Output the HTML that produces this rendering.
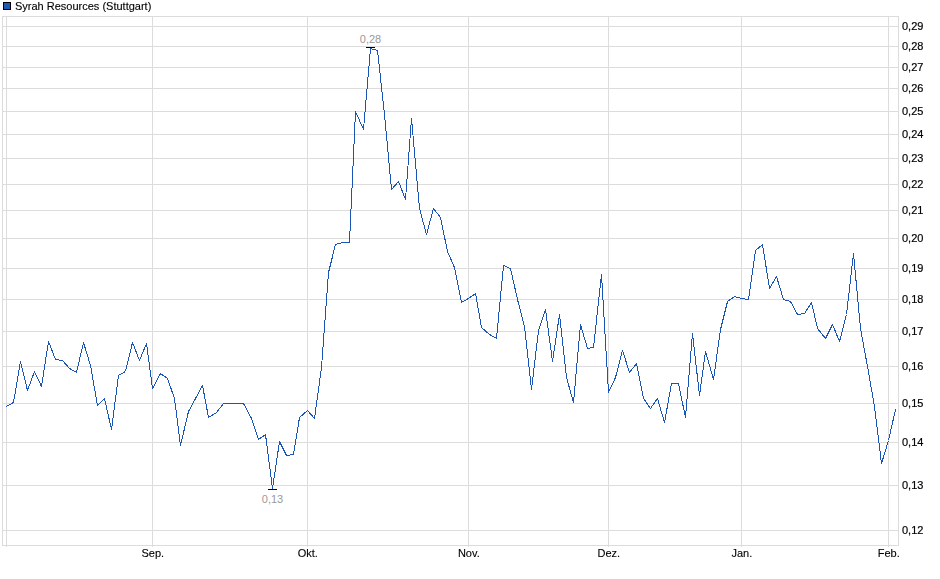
<!DOCTYPE html><html><head><meta charset="utf-8"><title>Chart</title><style>
html,body{margin:0;padding:0;background:#fff;}body{width:940px;height:579px;overflow:hidden;position:relative;font-family:"Liberation Sans",sans-serif;}
svg{position:absolute;left:0;top:0;}#main{will-change:transform;opacity:0.999;}text{font-family:"Liberation Sans",sans-serif;}
</style></head><body>
<svg id="under" width="940" height="579" viewBox="0 0 940 579">
<rect x="0" y="0" width="940" height="579" fill="#ffffff"/>
<g font-size="11" fill="#999999" text-anchor="middle"><text x="370.5" y="43">0,28</text><text x="272.5" y="503">0,13</text></g>
</svg>
<svg id="main" width="940" height="579" viewBox="0 0 940 579">
<g stroke="#dcdcdc" stroke-width="1" shape-rendering="crispEdges" fill="none">
<line x1="2" y1="26.5" x2="899" y2="26.5"/>
<line x1="2" y1="46.5" x2="899" y2="46.5"/>
<line x1="2" y1="67.5" x2="899" y2="67.5"/>
<line x1="2" y1="88.5" x2="899" y2="88.5"/>
<line x1="2" y1="111.5" x2="899" y2="111.5"/>
<line x1="2" y1="134.5" x2="899" y2="134.5"/>
<line x1="2" y1="158.5" x2="899" y2="158.5"/>
<line x1="2" y1="184.5" x2="899" y2="184.5"/>
<line x1="2" y1="210.5" x2="899" y2="210.5"/>
<line x1="2" y1="238.5" x2="899" y2="238.5"/>
<line x1="2" y1="268.5" x2="899" y2="268.5"/>
<line x1="2" y1="299.5" x2="899" y2="299.5"/>
<line x1="2" y1="331.5" x2="899" y2="331.5"/>
<line x1="2" y1="366.5" x2="899" y2="366.5"/>
<line x1="2" y1="403.5" x2="899" y2="403.5"/>
<line x1="2" y1="442.5" x2="899" y2="442.5"/>
<line x1="2" y1="485.5" x2="899" y2="485.5"/>
<line x1="2" y1="530.5" x2="899" y2="530.5"/>
<line x1="152.5" y1="16" x2="152.5" y2="547"/>
<line x1="307.5" y1="16" x2="307.5" y2="547"/>
<line x1="468.5" y1="16" x2="468.5" y2="547"/>
<line x1="608.5" y1="16" x2="608.5" y2="547"/>
<line x1="741.5" y1="16" x2="741.5" y2="547"/>
<line x1="888.5" y1="16" x2="888.5" y2="547"/>
<line x1="6.5" y1="16" x2="6.5" y2="547"/>
<rect x="2.5" y="16.5" width="896" height="529"/>
</g>
<polyline points="6.5,406.5 13.5,402.5 20.5,361.5 27.5,390.5 34.5,371.5 41.5,386.5 48.5,341.5 55.5,359.5 62.5,360.5 69.5,368.5 76.5,372.5 83.5,342.5 90.5,365.5 97.5,405.5 104.5,398.5 111.5,429.5 118.5,375.5 125.5,371.5 132.5,342.5 139.5,360.5 146.5,343.5 152.5,388.5 160.5,373.5 167.5,378.5 174.5,398.5 180.5,445.5 188.5,411.5 195.5,398.5 202.5,385.5 208.5,417.5 216.5,412.5 223.5,403.5 230.5,403.5 237.5,403.5 243.5,403.5 251.5,418.5 258.5,439.5 265.5,434.5 272.5,488.5 279.5,441.5 286.5,455.5 293.5,454.5 299.5,417.5 307.5,410.5 314.5,418.5 321.5,367.5 328.5,272.5 335.5,244.5 342.5,242.5 349.5,242.5 355.5,111.5 363.5,129.5 370.5,48.5 377.5,50.5 384.5,114.5 391.5,189.5 398.5,181.5 405.5,199.5 411.5,118.5 419.5,208.5 426.5,234.5 433.5,208.5 440.5,217.5 447.5,251.5 454.5,267.5 461.5,302.5 468.5,298.5 475.5,293.5 481.5,327.5 489.5,334.5 496.5,338.5 503.5,265.5 510.5,268.5 517.5,299.5 524.5,326.5 531.5,389.5 538.5,330.5 545.5,309.5 552.5,361.5 559.5,314.5 566.5,377.5 573.5,402.5 580.5,324.5 587.5,348.5 593.5,347.5 601.5,274.5 608.5,392.5 615.5,377.5 622.5,350.5 629.5,372.5 636.5,363.5 643.5,398.5 650.5,408.5 657.5,398.5 664.5,422.5 671.5,383.5 678.5,383.5 685.5,417.5 692.5,333.5 699.5,395.5 705.5,351.5 713.5,379.5 720.5,329.5 727.5,301.5 734.5,296.5 741.5,298.5 748.5,299.5 755.5,250.5 762.5,244.5 769.5,288.5 776.5,276.5 783.5,299.5 790.5,301.5 797.5,314.5 804.5,313.5 811.5,302.5 817.5,328.5 825.5,338.5 832.5,324.5 839.5,341.5 846.5,314.5 853.5,253.5 860.5,328.5 867.5,366.5 874.5,406.5 881.5,463.5 888.5,440.5 895.5,409.5" fill="none" stroke="#1a55b5" stroke-width="1" stroke-linejoin="bevel" shape-rendering="crispEdges"/>
<g stroke="#000" stroke-width="1.4" shape-rendering="crispEdges"><line x1="366" y1="47.3" x2="375" y2="47.3"/><line x1="268" y1="489.3" x2="277" y2="489.3"/></g>
<g font-size="11" fill="#000" stroke="#000" stroke-width="0.2" text-anchor="start">
<text x="902" y="30">0,29</text>
<text x="902" y="50">0,28</text>
<text x="902" y="71">0,27</text>
<text x="902" y="92">0,26</text>
<text x="902" y="115">0,25</text>
<text x="902" y="138">0,24</text>
<text x="902" y="162">0,23</text>
<text x="902" y="188">0,22</text>
<text x="902" y="214">0,21</text>
<text x="902" y="242">0,20</text>
<text x="902" y="272">0,19</text>
<text x="902" y="303">0,18</text>
<text x="902" y="335">0,17</text>
<text x="902" y="370">0,16</text>
<text x="902" y="407">0,15</text>
<text x="902" y="446">0,14</text>
<text x="902" y="489">0,13</text>
<text x="902" y="534">0,12</text>
</g>
<g font-size="11" fill="#000" stroke="#000" stroke-width="0.12" text-anchor="middle">
<text x="152.8" y="557">Sep.</text>
<text x="307.8" y="557">Okt.</text>
<text x="468.8" y="557">Nov.</text>
<text x="608.8" y="557">Dez.</text>
<text x="741.8" y="557">Jan.</text>
<text x="888.8" y="557">Feb.</text>
</g>
<rect x="3.5" y="2.5" width="7" height="7" fill="#1e59b8" stroke="#000" stroke-width="1" shape-rendering="crispEdges"/>
<text x="15" y="10" font-size="11" fill="#000" stroke="#000" stroke-width="0.12">Syrah Resources (Stuttgart)</text>
</svg></body></html>
